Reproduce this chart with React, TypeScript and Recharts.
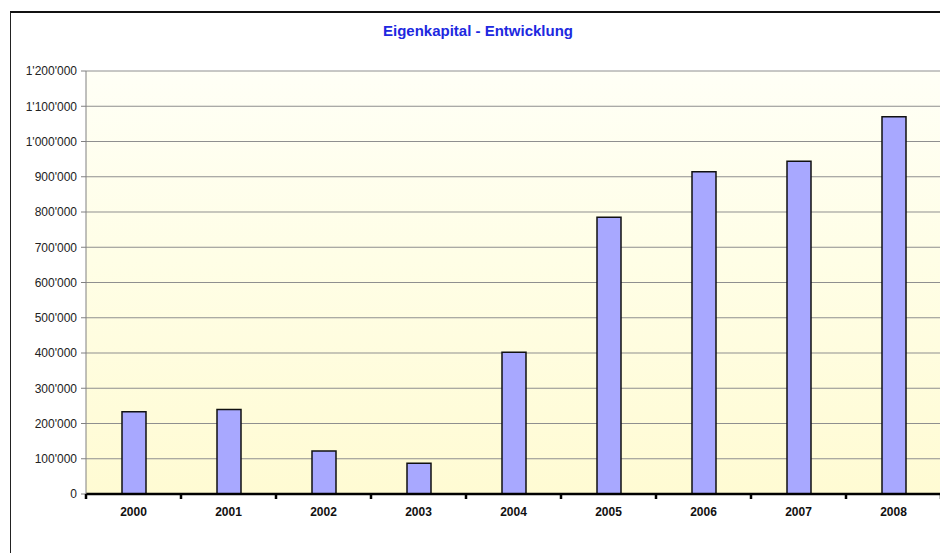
import React from "react";
import { BarChart, Bar, XAxis, YAxis, CartesianGrid } from "recharts";

const years = ["2000", "2001", "2002", "2003", "2004", "2005", "2006", "2007", "2008"];
const equity = [233500, 240000, 122000, 87000, 402000, 785000, 914000, 944000, 1070000];
const yTicks = [0, 100000, 200000, 300000, 400000, 500000, 600000, 700000, 800000, 900000, 1000000, 1100000, 1200000];

const data = years.map((year, i) => ({ year, value: equity[i] }));

const FONT = "'Liberation Sans', Arial, sans-serif";
const BAND = 95;

const fmt = (v: number) => String(v).replace(/\B(?=(\d{3})+(?!\d))/g, "'");

function YearTick(props: any) {
  const { x, y, payload, index } = props;
  const left = x - BAND / 2;
  return (
    <g>
      <line x1={left} x2={left} y1={y} y2={y + 5} stroke="#000" strokeWidth={2.5} />
      {index === years.length - 1 && (
        <line x1={x + BAND / 2} x2={x + BAND / 2} y1={y} y2={y + 5} stroke="#000" strokeWidth={2.5} />
      )}
      <text x={x} y={y + 22} textAnchor="middle" fontSize={12} fontWeight="bold" fill="#111" fontFamily={FONT}>
        {payload.value}
      </text>
    </g>
  );
}

export default function App() {
  return (
    <div style={{ position: "absolute", left: 0, top: 0, width: 940, height: 553, overflow: "hidden", background: "#fff" }}>
      <div
        style={{
          position: "absolute",
          left: 10,
          top: 11,
          width: 960,
          height: 600,
          borderTop: "2px solid #111",
          borderLeft: "1.5px solid #222",
        }}
      />
      <div
        style={{
          position: "absolute",
          left: 0,
          width: 956,
          top: 22,
          textAlign: "center",
          fontFamily: FONT,
          fontWeight: "bold",
          fontSize: 15,
          color: "#2028E0",
        }}
      >
        Eigenkapital - Entwicklung
      </div>
      <div style={{ position: "absolute", left: 0, top: 0 }}>
        <BarChart width={941} height={553} data={data} margin={{ top: 71, right: 0, bottom: 29, left: 0 }} barCategoryGap={0}>
          <defs>
            <linearGradient id="plotBg" x1="0" y1="0" x2="0" y2="1">
              <stop offset="0%" stopColor="#FFFFF6" />
              <stop offset="45%" stopColor="#FFFEE6" />
              <stop offset="100%" stopColor="#FFFBD3" />
            </linearGradient>
          </defs>
          <CartesianGrid vertical={false} stroke="#8f8f8f" fill="url(#plotBg)" fillOpacity={1} />
          <XAxis
            dataKey="year"
            height={30}
            axisLine={{ stroke: "#000", strokeWidth: 2.5 }}
            tickLine={false}
            tickSize={0}
            tickMargin={0}
            interval={0}
            tick={<YearTick />}
          />
          <YAxis
            width={86}
            domain={[0, 1200000]}
            ticks={yTicks}
            interval={0}
            tickFormatter={fmt}
            axisLine={{ stroke: "#808080" }}
            tickLine={{ stroke: "#808080" }}
            tickSize={5}
            tickMargin={4}
            tick={{ fontSize: 12, fill: "#222", fontFamily: FONT }}
          />
          <Bar dataKey="value" fill="#A8A8FF" stroke="#111" strokeWidth={1.5} barSize={24} isAnimationActive={false} />
        </BarChart>
      </div>
    </div>
  );
}
